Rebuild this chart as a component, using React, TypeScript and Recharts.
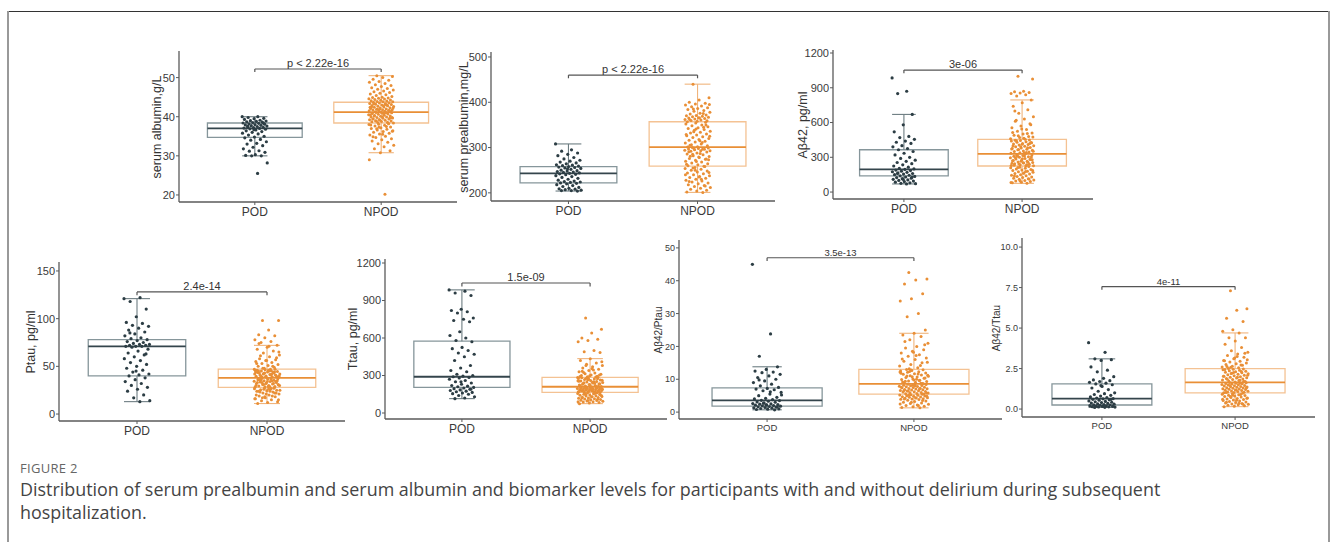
import React from "react";
import { ComposedChart, Scatter, XAxis, YAxis, ReferenceArea, ReferenceLine } from "recharts";

const groups = ["POD", "NPOD"];

// box stats: [lower whisker, q1, median, q3, upper whisker]
const albuminPodBox = [30, 34.7, 37, 38.4, 40];
const albuminNpodBox = [30.8, 38.4, 41.2, 43.7, 50.5];
const albuminPod = [40, 40, 39.8, 39.6, 39.5, 39.3, 39.1, 39, 38.9, 38.8, 38.7, 38.6, 38.5, 38.4, 38.3, 38.2, 38.1, 38, 37.9, 37.8, 37.7, 37.6, 37.5, 37.4, 37.3, 37.2, 37.1, 37, 36.9, 36.8, 36.6, 36.4, 36.2, 36, 35.8, 35.6, 35.3, 35, 34.8, 34.6, 34.2, 34, 33.6, 33.2, 33, 32.6, 32.2, 31.8, 31.3, 31.2, 30.9, 30.3, 30.1, 30, 30, 28.2, 25.5, 37.6, 38.3, 36.7];
const albuminNpod = [50.5, 50.3, 50, 49.6, 49.3, 49, 48.8, 48.5, 48.2, 48, 47.7, 47.4, 47.2, 47, 46.8, 46.6, 46.4, 46.2, 46, 45.8, 45.6, 45.4, 45.2, 45, 44.9, 44.8, 44.7, 44.6, 44.5, 44.4, 44.3, 44.2, 44.1, 44, 43.9, 43.8, 43.8, 43.7,
  43.6, 43.5, 43.4, 43.3, 43.2, 43.1, 43, 42.9, 42.8, 42.7, 42.6, 42.5, 42.4, 42.3, 42.2, 42.1, 42, 41.9, 41.8, 41.8, 41.7, 41.6, 41.5, 41.5, 41.4, 41.3, 41.3, 41.2, 42.5, 43, 41.9, 42.2, 42.8, 43.3, 41.6, 42, 42.4, 43.1,
  41.1, 41, 40.9, 40.8, 40.7, 40.6, 40.5, 40.4, 40.3, 40.2, 40.1, 40, 39.9, 39.8, 39.7, 39.6, 39.5, 39.4, 39.3, 39.2, 39.1, 39, 38.9, 38.8, 38.7, 38.6, 38.5, 38.4, 40.8, 40.2, 39.6, 39.1, 40.5, 41, 38.9, 39.8, 40, 39.4,
  38.3, 38.1, 38, 37.8, 37.6, 37.4, 37.2, 37, 36.8, 36.6, 36.4, 36.2, 36, 35.8, 35.6, 35.3, 35, 34.7, 34.4, 34.1, 33.8, 33.5, 33.1, 32.7, 32.3, 31.8, 31.3, 30.8, 37.9, 37.5, 36.9, 36.3, 35.5, 34.9, 38.2, 37.3, 29, 20.2];

const prealbPodBox = [204, 222, 243, 258, 308];
const prealbNpodBox = [201, 259, 301, 357, 440];
const prealbPod = [308, 295, 292, 288, 285, 282, 278, 275, 272, 270, 268, 266, 264, 262, 261, 260, 259, 258, 257, 256, 255, 254, 252, 250, 249, 248, 247, 246, 245, 244, 243, 242, 241, 240, 238, 236, 234, 232, 230, 228, 226, 225, 224, 223, 222, 221, 220, 218, 216, 214, 212, 210, 209, 208, 207, 206, 205, 205, 204, 253];
const prealbNpod = [440, 410, 405, 400, 398, 396, 394, 392, 390, 388, 386, 384, 382, 380, 378, 376, 374, 372, 371, 370, 369, 368, 367, 366, 365, 364, 363, 362, 361, 360, 359, 358, 357, 375, 385, 395, 365, 362,
  356, 354, 352, 350, 348, 346, 344, 342, 340, 338, 336, 334, 332, 330, 328, 326, 324, 322, 320, 318, 316, 314, 312, 310, 308, 306, 304, 302, 301, 345, 335, 325, 315, 305, 350, 341, 329, 311,
  300, 299, 298, 297, 296, 295, 294, 293, 292, 290, 288, 286, 284, 282, 280, 278, 276, 274, 272, 270, 268, 266, 264, 262, 260, 259, 297, 293, 287, 281, 275, 269, 263, 296, 285, 273, 279, 291,
  258, 256, 254, 252, 250, 248, 246, 244, 242, 240, 238, 236, 234, 232, 230, 228, 226, 224, 222, 220, 218, 216, 214, 212, 210, 208, 206, 204, 202, 201, 255, 245, 235, 225, 215, 250, 240, 230];

const ab42PodBox = [70, 140, 195, 365, 670];
const ab42NpodBox = [75, 225, 330, 455, 795];
const ab42Pod = [985, 870, 850, 670, 580, 520, 480, 470, 455, 440, 430, 420, 400, 390, 375, 365, 350, 335, 320, 300, 290, 275, 265, 255, 245, 235, 225, 215, 205, 200, 195, 190, 185, 180, 175, 170, 165, 160, 155, 150, 145, 140, 135, 130, 125, 120, 115, 110, 105, 100, 95, 90, 85, 80, 75, 72, 70, 160, 130, 110];
const ab42Npod = [1000, 975, 870, 865, 860, 855, 850, 840, 830, 795, 770, 740, 710, 680, 650, 630, 610, 590, 570, 555, 540, 525, 510, 500, 490, 480, 470, 460, 455, 620, 580, 545, 515, 505, 485, 475, 465, 700,
  450, 445, 440, 435, 430, 425, 420, 415, 410, 405, 400, 395, 390, 385, 380, 375, 370, 365, 360, 355, 350, 345, 340, 335, 330, 442, 428, 412, 398, 382, 368, 352, 338, 448, 418, 392, 372, 342,
  325, 320, 315, 310, 305, 300, 295, 290, 285, 280, 275, 270, 265, 260, 255, 250, 245, 240, 235, 230, 225, 318, 302, 288, 272, 258, 242, 228, 312, 296, 282, 266, 248, 236, 308, 278, 252, 232,
  220, 215, 210, 205, 200, 195, 190, 185, 180, 175, 170, 165, 160, 155, 150, 145, 140, 135, 130, 125, 120, 115, 110, 105, 100, 95, 90, 85, 80, 75, 212, 188, 162, 138, 112, 98, 82, 178];

const ptauPodBox = [13, 40, 71, 78, 121];
const ptauNpodBox = [11, 28, 38, 47, 72];
const ptauPod = [121, 122, 118, 110, 102, 96, 95, 93, 92, 90, 88, 86, 84, 82, 80, 79, 78, 77, 76, 75, 74, 73, 73, 72, 72, 71, 71, 71, 70, 68, 66, 64, 62, 60, 58, 56, 54, 52, 50, 48, 46, 44, 42, 41, 40, 38, 36, 34, 32, 30, 28, 26, 24, 20, 17, 14, 13, 85, 63, 45];
const ptauNpod = [98, 98, 88, 83, 82, 80, 78, 76, 75, 72, 70, 68, 66, 64, 62, 60, 58, 57, 56, 55, 54, 53, 52, 51, 50, 49, 48, 47, 47, 61, 59, 56, 53, 50, 48, 65, 71, 74,
  47, 46.5, 46, 45.5, 45, 44.5, 44, 43.5, 43, 42.5, 42, 41.5, 41, 40.5, 40, 39.5, 39, 38.5, 38, 46, 45, 44, 43, 42, 41, 40, 39, 38, 46, 44, 42, 40, 45, 43, 41, 39, 44, 42,
  37.5, 37, 36.5, 36, 35.5, 35, 34.5, 34, 33.5, 33, 32.5, 32, 31.5, 31, 30.5, 30, 29.5, 29, 28.5, 28, 37, 36, 35, 34, 33, 32, 31, 30, 29, 36, 34, 32, 30, 35, 33, 31, 29, 37,
  27.5, 27, 26.5, 26, 25.5, 25, 24.5, 24, 23, 22, 21, 20, 19, 18, 17, 16, 15, 14, 13, 12, 11, 27, 26, 25, 24, 23, 22, 21, 20, 19, 17, 15, 26, 24, 22, 18, 16, 27];

const ttauPodBox = [115, 205, 290, 575, 985];
const ttauNpodBox = [75, 165, 210, 285, 435];
const ttauPod = [985, 975, 960, 940, 830, 820, 810, 800, 760, 750, 740, 730, 650, 620, 600, 580, 570, 525, 515, 500, 480, 470, 450, 420, 380, 360, 340, 330, 310, 300, 295, 290, 285, 280, 270, 260, 250, 240, 230, 220, 215, 210, 205, 200, 195, 190, 185, 180, 175, 170, 165, 160, 155, 150, 140, 130, 120, 115, 190, 250];
const ttauNpod = [760, 670, 640, 600, 590, 580, 570, 500, 490, 485, 435, 420, 400, 390, 380, 370, 360, 350, 340, 330, 320, 315, 310, 305, 300, 295, 290, 285, 345, 325, 305, 298, 292, 288, 380, 410, 355, 335,
  284, 280, 276, 272, 268, 264, 260, 256, 252, 248, 244, 240, 236, 232, 228, 224, 220, 216, 212, 210, 282, 274, 266, 258, 250, 242, 234, 226, 218, 212, 278, 262, 246, 230, 214, 270, 254, 238,
  208, 206, 204, 202, 200, 198, 196, 194, 192, 190, 188, 186, 184, 182, 180, 178, 176, 174, 172, 170, 168, 166, 165, 207, 203, 199, 195, 191, 187, 183, 179, 175, 171, 167, 205, 197, 189, 181,
  163, 160, 157, 154, 151, 148, 145, 142, 139, 136, 133, 130, 127, 124, 121, 118, 115, 112, 109, 106, 103, 100, 97, 94, 91, 88, 85, 80, 75, 158, 150, 140, 130, 120, 110, 100, 90, 162];

const abPtauPodBox = [0.7, 1.8, 3.6, 7.4, 13.8];
const abPtauNpodBox = [1.3, 5.5, 8.6, 13, 24];
const abPtauPod = [45, 23.8, 17, 13.8, 13, 12.5, 12.2, 12, 11.5, 11, 10.5, 10, 9.5, 9, 8.5, 8, 7.5, 7.2, 7, 6.8, 6.5, 6, 5.5, 5, 4.5, 4.2, 4, 3.8, 3.6, 3.5, 3.3, 3.1, 3, 2.8, 2.6, 2.5, 2.4, 2.3, 2.2, 2.1, 2, 1.9, 1.8, 1.7, 1.6, 1.5, 1.4, 1.3, 1.2, 1.1, 1, 0.9, 0.8, 0.7, 2.7, 5.2, 6.2, 9.8, 1.6, 2.2];
const abPtauNpod = [42.5, 40.5, 40.2, 39, 36, 34.5, 33.8, 30, 29, 25, 24, 23.5, 23, 22, 21, 20, 19.5, 19, 18.5, 18, 17.5, 17, 16.5, 16, 15.5, 15, 14.5, 14, 13.5, 13, 20.5, 18.2, 16.2, 14.2, 13.2, 15.2, 17.2, 21.5,
  12.9, 12.7, 12.5, 12.3, 12.1, 11.9, 11.7, 11.5, 11.3, 11.1, 10.9, 10.7, 10.5, 10.3, 10.1, 9.9, 9.7, 9.5, 9.3, 9.1, 8.9, 8.7, 12.8, 12.2, 11.6, 11, 10.4, 9.8, 9.2, 8.8, 12.4, 11.2, 10, 9.4, 8.6, 10.8, 11.8, 9.6,
  8.5, 8.4, 8.3, 8.2, 8.1, 8, 7.9, 7.8, 7.7, 7.6, 7.5, 7.4, 7.3, 7.2, 7.1, 7, 6.9, 6.8, 6.7, 6.6, 6.5, 6.4, 6.3, 6.2, 6.1, 6, 5.9, 5.8, 5.7, 5.6, 5.5, 8.2, 7.6, 7, 6.4, 5.8, 8, 6.6,
  5.4, 5.3, 5.2, 5.1, 5, 4.9, 4.8, 4.7, 4.6, 4.5, 4.4, 4.3, 4.2, 4.1, 4, 3.9, 3.8, 3.6, 3.4, 3.2, 3, 2.8, 2.6, 2.4, 2.2, 2, 1.8, 1.6, 1.4, 1.3, 5.2, 4.8, 4.4, 4, 3.5, 3, 2.5, 2];

const abTtauPodBox = [0.1, 0.25, 0.65, 1.55, 3.1];
const abTtauNpodBox = [0.15, 1.0, 1.65, 2.5, 4.7];
const abTtauPod = [4.1, 3.5, 3.1, 3.05, 3, 2.6, 2.4, 2.3, 2, 1.9, 1.8, 1.75, 1.7, 1.65, 1.6, 1.55, 1.5, 1.4, 1.3, 1.2, 1.1, 1.0, 0.95, 0.9, 0.85, 0.8, 0.75, 0.7, 0.68, 0.65, 0.63, 0.6, 0.57, 0.55, 0.5, 0.47, 0.45, 0.42, 0.4, 0.37, 0.35, 0.32, 0.3, 0.28, 0.26, 0.25, 0.23, 0.21, 0.2, 0.18, 0.17, 0.16, 0.15, 0.14, 0.13, 0.12, 0.11, 0.1, 0.6, 1.45];
const abTtauNpod = [7.3, 6.2, 6.1, 5.6, 5.4, 4.9, 4.8, 4.7, 4.4, 4.4, 4.2, 4, 3.8, 3.6, 3.5, 3.4, 3.3, 3.2, 3.1, 3, 2.95, 2.9, 2.85, 2.8, 2.75, 2.7, 2.65, 2.6, 2.55, 2.5, 3.45, 3.15, 2.98, 2.72, 2.58, 3.05, 3.25, 2.62,
  2.48, 2.45, 2.42, 2.39, 2.36, 2.33, 2.3, 2.27, 2.24, 2.21, 2.18, 2.15, 2.12, 2.09, 2.06, 2.03, 2, 1.97, 1.94, 1.91, 1.88, 1.85, 1.82, 1.79, 1.76, 1.73, 1.7, 1.67, 2.44, 2.32, 2.2, 2.08, 1.96, 1.84, 1.72, 2.26, 2.02, 1.78,
  1.64, 1.62, 1.6, 1.58, 1.56, 1.54, 1.52, 1.5, 1.48, 1.46, 1.44, 1.42, 1.4, 1.38, 1.36, 1.34, 1.32, 1.3, 1.28, 1.26, 1.24, 1.22, 1.2, 1.18, 1.16, 1.14, 1.12, 1.1, 1.08, 1.06, 1.04, 1.02, 1, 1.59, 1.45, 1.31, 1.17, 1.03,
  0.98, 0.95, 0.92, 0.89, 0.86, 0.83, 0.8, 0.77, 0.74, 0.71, 0.68, 0.65, 0.62, 0.59, 0.56, 0.53, 0.5, 0.47, 0.44, 0.41, 0.38, 0.35, 0.32, 0.29, 0.26, 0.23, 0.2, 0.17, 0.15, 0.9, 0.78, 0.66, 0.54, 0.42, 0.3, 0.85, 0.6, 0.36];

const POD = { dot: "#2c3d44", box: "#86969b", mid: "#34454c", whisk: "#6d7d82" };
const NPOD = { dot: "#e98f36", box: "#f4c293", mid: "#e98f36", whisk: "#f0b47c" };
const AXIS = "#5a5a5a";
const FONT = "'Liberation Sans Narrow', 'Liberation Sans', Arial, sans-serif";

// deterministic horizontal spread of points (±0.1 category units)
const jit = (i: number) => (((i * 0.6180339887) % 1) - 0.5) * 0.2;

const panels = [
  { ax: 179, top: 51, bot: 202, right: 457, domain: [18.2, 56.8], ticks: [20, 30, 40, 50], label: "serum albumin,g/L", labelDx: 22, p: "p < 2.22e-16", bracket: 52.2, tip: 0.8, pod: albuminPod, npod: albuminNpod, podBox: albuminPodBox, npodBox: albuminNpodBox },
  { ax: 491, top: 52, bot: 201, right: 775, domain: [182, 511], ticks: [200, 300, 400, 500], label: "serum prealbumin,mg/L", labelDx: 27, p: "p < 2.22e-16", bracket: 460, tip: 7, pod: prealbPod, npod: prealbNpod, podBox: prealbPodBox, npodBox: prealbNpodBox },
  { ax: 833, top: 50, bot: 199, right: 1093, domain: [-60, 1226], ticks: [0, 300, 600, 900, 1200], label: "Aβ42, pg/ml", labelDx: 30, p: "3e-06", bracket: 1053, tip: 28, pod: ab42Pod, npod: ab42Npod, podBox: ab42PodBox, npodBox: ab42NpodBox },
  { ax: 59, top: 262, bot: 421, right: 345, domain: [-7.3, 159.4], ticks: [0, 50, 100, 150], label: "Ptau, pg/ml", labelDx: 28, p: "2.4e-14", bracket: 128, tip: 3.5, pod: ptauPod, npod: ptauNpod, podBox: ptauPodBox, npodBox: ptauNpodBox },
  { ax: 385, top: 259, bot: 419, right: 667, domain: [-48, 1232], ticks: [0, 300, 600, 900, 1200], label: "Ttau, pg/ml", labelDx: 32, p: "1.5e-09", bracket: 1040, tip: 28, pod: ttauPod, npod: ttauNpod, podBox: ttauPodBox, npodBox: ttauNpodBox },
  { ax: 679, top: 240, bot: 419, right: 1002, domain: [-2.1, 52.4], ticks: [0, 10, 20, 30, 40, 50], label: "Aβ42/Ptau", labelDx: 20, p: "3.5e-13", bracket: 47, tip: 1, small: true, pod: abPtauPod, npod: abPtauNpod, podBox: abPtauPodBox, npodBox: abPtauNpodBox },
  { ax: 1022, top: 238, bot: 417, right: 1315, domain: [-0.49, 10.56], ticks: [0, 2.5, 5, 7.5, 10], fmt: (v: number) => v.toFixed(1), label: "Aβ42/Ttau", labelDx: 25, p: "4e-11", bracket: 7.56, tip: 0.2, small: true, pod: abTtauPod, npod: abTtauNpod, podBox: abTtauPodBox, npodBox: abTtauNpodBox },
];

function boxParts(pos: number, s: number[], c: any, key: string) {
  const [lo, q1, med, q3, hi] = s;
  const w = 0.375;
  const cap = 0.1;
  return [
    <ReferenceLine key={key + "w1"} segment={[{ x: pos, y: lo }, { x: pos, y: q1 }]} stroke={c.whisk} strokeWidth={1.1} />,
    <ReferenceLine key={key + "w2"} segment={[{ x: pos, y: q3 }, { x: pos, y: hi }]} stroke={c.whisk} strokeWidth={1.1} />,
    <ReferenceLine key={key + "c1"} segment={[{ x: pos - cap, y: lo }, { x: pos + cap, y: lo }]} stroke={c.whisk} strokeWidth={1.1} />,
    <ReferenceLine key={key + "c2"} segment={[{ x: pos - cap, y: hi }, { x: pos + cap, y: hi }]} stroke={c.whisk} strokeWidth={1.1} />,
    <ReferenceArea key={key + "b"} x1={pos - w} x2={pos + w} y1={q1} y2={q3} fill="none" fillOpacity={0} stroke={c.box} strokeWidth={1.3} />,
    <ReferenceLine key={key + "m"} segment={[{ x: pos - w, y: med }, { x: pos + w, y: med }]} stroke={c.mid} strokeWidth={1.8} />,
  ];
}

function Panel({ cfg }: { cfg: any }) {
  const yw = 50;
  const mt = 10;
  const fs = cfg.small ? 9 : 11;
  const width = yw + (cfg.right - cfg.ax) + 4;
  const height = cfg.bot - cfg.top + 24 + mt;
  const podPts = cfg.pod.map((y: number, i: number) => ({ x: 1 + jit(i), y }));
  const npodPts = cfg.npod.map((y: number, i: number) => ({ x: 2 + jit(i + 7), y }));
  const tick = { fill: "#3a3a3a", fontSize: fs, fontFamily: FONT };
  const b = cfg.bracket;
  return (
    <>
      <div style={{ position: "absolute", left: cfg.ax - yw, top: cfg.top - mt }}>
        <ComposedChart width={width} height={height} margin={{ top: mt, right: 4, left: 0, bottom: 0 }}>
          <XAxis type="number" dataKey="x" domain={[0.4, 2.6]} ticks={[1, 2]} allowDataOverflow
            tickFormatter={(v: number) => groups[v - 1]} tick={{ ...tick, fontSize: cfg.small ? 9.5 : 12 }} height={24} tickSize={3} tickMargin={2}
            axisLine={{ stroke: AXIS, strokeWidth: 1.3 }} tickLine={{ stroke: AXIS }} />
          <YAxis type="number" dataKey="y" domain={cfg.domain} ticks={cfg.ticks} allowDataOverflow interval={0}
            tickFormatter={cfg.fmt} width={yw} tick={tick} tickSize={3} tickMargin={1}
            axisLine={{ stroke: AXIS, strokeWidth: 1.3 }} tickLine={{ stroke: AXIS }} />
          {boxParts(1, cfg.podBox, POD, "p")}
          {boxParts(2, cfg.npodBox, NPOD, "n")}
          <ReferenceLine segment={[{ x: 1, y: b }, { x: 2, y: b }]} stroke="#555" strokeWidth={1.2}
            label={{ value: cfg.p, position: "top", offset: 2, fill: "#333", fontSize: cfg.small ? 9.5 : 11, fontFamily: FONT }} />
          <ReferenceLine segment={[{ x: 1, y: b }, { x: 1, y: b - cfg.tip }]} stroke="#555" strokeWidth={1.2} />
          <ReferenceLine segment={[{ x: 2, y: b }, { x: 2, y: b - cfg.tip }]} stroke="#555" strokeWidth={1.2} />
          <Scatter data={podPts} isAnimationActive={false}
            shape={(p: any) => <circle cx={p.cx} cy={p.cy} r={1.6} fill={POD.dot} />} />
          <Scatter data={npodPts} isAnimationActive={false}
            shape={(p: any) => <circle cx={p.cx} cy={p.cy} r={1.5} fill={NPOD.dot} />} />
        </ComposedChart>
      </div>
      <div style={{
        position: "absolute", left: cfg.ax - cfg.labelDx, top: (cfg.top + cfg.bot) / 2,
        transform: "translate(-50%, -50%) rotate(-90deg)", whiteSpace: "nowrap", lineHeight: 1,
        fontFamily: FONT, fontSize: cfg.small ? 10 : 12.5, color: "#333",
      }}>{cfg.label}</div>
    </>
  );
}

export default function App() {
  return (
    <div style={{ position: "absolute", left: 0, top: 0, width: 1331, height: 542, background: "#fff", overflow: "hidden" }}>
      <div style={{ position: "absolute", left: 8, top: 11, width: 1322, borderTop: "1.5px solid #333" }} />
      <div style={{ position: "absolute", left: 7, top: 11, height: 531, borderLeft: "2px solid #999" }} />
      <div style={{ position: "absolute", left: 1328, top: 11, height: 531, borderLeft: "2px solid #999" }} />
      {panels.map((cfg, i) => <Panel key={i} cfg={cfg} />)}
      <div style={{ position: "absolute", left: 20, top: 459, fontFamily: "'Open Sans', sans-serif", fontSize: 13, color: "#666", letterSpacing: 0.3 }}>FIGURE 2</div>
      <div style={{ position: "absolute", left: 20, top: 478, fontFamily: "'Open Sans', sans-serif", fontSize: 17.9, lineHeight: "23px", color: "#444", whiteSpace: "nowrap" }}>
        Distribution of serum prealbumin and serum albumin and biomarker levels for participants with and without delirium during subsequent<br />hospitalization.
      </div>
    </div>
  );
}
